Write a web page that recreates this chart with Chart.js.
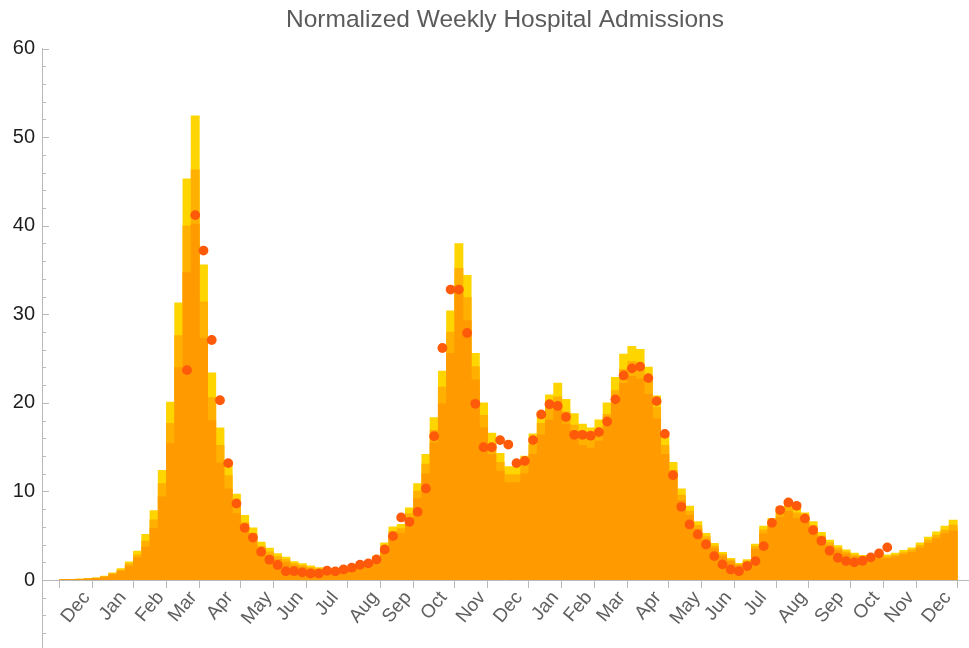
<!DOCTYPE html>
<html>
<head>
<meta charset="utf-8">
<script src="https://cdn.jsdelivr.net/npm/chart.js@4.4.1/dist/chart.umd.min.js"></script>
<style>
  html, body { margin: 0; padding: 0; background: #ffffff; }
  canvas { display: block; }
</style>
</head>
<body>
<canvas id="chart" width="969" height="648"></canvas>
<script>
// Month names shown along the time axis (one per month, Dec through the second Dec)
const monthLabels = ['Dec','Jan','Feb','Mar','Apr','May','Jun','Jul','Aug','Sep','Oct','Nov',
                     'Dec','Jan','Feb','Mar','Apr','May','Jun','Jul','Aug','Sep','Oct','Nov','Dec'];

// Week index at which each month starts (last entry closes the final month)
const monthStartWeek = [0,4,9,13,17,22,26,30,35,39,43,48,52,57,61,65,69,74,78,82,87,91,96,100,104,109];

// Upper edge of the projection band, per week
const upperBand = [
  0.05,0.08,0.12,0.18,0.26,0.45,0.83,1.3,2.07,3.27,
  5.15,7.85,12.4,20.1,31.3,45.3,52.4,35.6,23.4,17.2,
  13.4,9.7,7.3,5.9,4.3,3.6,3.0,2.6,2.1,1.85,
  1.6,1.4,1.25,1.3,1.45,1.6,1.85,2.1,2.7,4.2,
  6.0,6.3,8.15,10.9,14.2,18.35,23.6,30.4,38.0,34.4,
  25.6,20.0,16.6,14.3,12.8,12.8,14.0,16.5,19.0,20.9,
  22.25,20.4,18.8,17.6,17.2,18.1,20.0,22.9,25.5,26.4,
  26.05,24.05,20.8,16.2,13.3,10.3,8.35,6.6,5.27,4.14,
  3.12,2.44,1.9,2.3,4.06,6.1,6.96,8.27,9.0,8.15,
  7.6,6.6,5.4,4.5,3.9,3.4,3.05,2.8,2.7,2.75,
  2.85,3.05,3.35,3.65,4.2,4.85,5.45,6.1,6.77
];

// Middle edge of the projection band, per week
const middleBand = [
  0.04,0.07,0.11,0.16,0.23,0.4,0.73,1.14,1.82,2.85,
  4.4,6.8,10.9,17.7,27.6,40.0,46.3,31.4,20.6,15.2,
  11.8,8.6,6.5,5.2,3.8,3.2,2.65,2.3,1.86,1.64,
  1.42,1.25,1.12,1.17,1.31,1.45,1.68,1.92,2.47,3.85,
  5.5,5.8,7.5,10.05,13.1,16.9,21.8,28.0,35.2,31.9,
  24.1,18.6,15.4,13.3,11.9,11.9,13.0,15.3,17.7,19.5,
  20.7,19.0,17.5,16.4,16.0,16.9,18.7,21.4,23.8,24.7,
  24.4,22.5,19.5,15.2,12.4,9.6,7.8,6.15,4.9,3.85,
  2.9,2.27,1.77,2.14,3.78,5.68,6.5,7.7,8.4,7.6,
  7.05,6.15,5.0,4.2,3.6,3.15,2.83,2.6,2.5,2.55,
  2.64,2.83,3.1,3.38,3.9,4.5,5.05,5.65,6.2
];

// Lower edge of the projection band, per week
const lowerBand = [
  0.04,0.06,0.09,0.14,0.2,0.34,0.63,0.99,1.58,2.5,
  3.75,5.8,9.4,15.4,24.0,34.7,40.2,27.3,18.0,13.2,
  10.3,7.5,5.6,4.5,3.3,2.8,2.3,2.0,1.62,1.43,
  1.24,1.09,0.98,1.03,1.16,1.29,1.5,1.73,2.24,3.5,
  5.0,5.3,6.85,9.2,12.0,15.5,19.9,25.6,32.4,29.3,
  22.6,17.2,14.2,12.3,11.0,11.0,12.0,14.2,16.4,18.1,
  19.2,17.6,16.2,15.2,14.9,15.7,17.4,19.9,22.2,23.0,
  22.7,21.0,18.2,14.2,11.6,9.0,7.3,5.75,4.6,3.6,
  2.7,2.1,1.64,1.98,3.5,5.25,6.0,7.1,7.75,7.0,
  6.55,5.7,4.65,3.9,3.35,2.92,2.62,2.4,2.32,2.37,
  2.45,2.62,2.88,3.14,3.6,4.17,4.69,5.25,5.56
];

// Reported weekly admissions (null where no report exists)
const observed = [
  null,null,null,null,null,null,null,null,null,null,
  null,null,null,null,null,23.7,41.2,37.2,27.1,20.3,
  13.2,8.65,5.9,4.8,3.2,2.3,1.7,1.0,1.0,0.87,
  0.75,0.75,1.05,0.98,1.2,1.4,1.73,1.88,2.33,3.46,
  4.96,7.07,6.58,7.7,10.34,16.24,26.2,32.8,32.8,27.9,
  19.9,15.0,15.0,15.8,15.3,13.2,13.45,15.8,18.7,19.85,
  19.66,18.4,16.4,16.4,16.3,16.7,17.9,20.4,23.1,23.9,
  24.1,22.8,20.2,16.5,11.84,8.27,6.28,5.15,4.02,2.7,
  1.77,1.2,1.0,1.58,2.14,3.83,6.46,7.9,8.76,8.38,
  6.96,5.64,4.43,3.3,2.52,2.14,2.0,2.18,2.56,3.0,
  3.69,null,null,null,null,null,null,null,null
];

// Value-axis tick positions (labels only on the multiples of ten)
const valueTicks = [-6,-4,-2,0,2,4,6,8,10,12,14,16,18,20,22,24,26,28,30,32,34,36,38,40,42,44,46,48,50,52,54,56,58,60];

const FONT = '"Liberation Sans", Arial, Helvetica, sans-serif';
const AXIS_GREY = '#b9b9b9';
const LABEL_SIZE = 19;
const LABEL_ROT = 50;
const WEEK_MIN = -2.1;
const WEEK_MAX = 110.3;

// bars sit centred in their week slot
const asPoints = arr => arr
  .map((v, i) => (v == null ? null : { x: i + 0.5, y: v }))
  .filter(p => p !== null);

const barCommon = {
  type: 'bar',
  grouped: false,
  barPercentage: 1.0,
  categoryPercentage: 1.0,
  borderWidth: 0
};

// small inward tick marks on the value axis
const valueAxisTicks = {
  id: 'valueAxisTicks',
  afterDraw(chart) {
    const ys = chart.scales.y;
    const left = chart.chartArea.left;
    const ctx = chart.ctx;
    ctx.save();
    ctx.strokeStyle = AXIS_GREY;
    ctx.lineWidth = 1;
    ys.ticks.forEach(t => {
      const py = Math.round(ys.getPixelForValue(t.value)) + 0.5;
      const len = t.value % 10 === 0 ? 7 : 4;
      ctx.beginPath();
      ctx.moveTo(left, py);
      ctx.lineTo(left + len, py);
      ctx.stroke();
    });
    ctx.restore();
  }
};

const measureCtx = document.createElement('canvas').getContext('2d');
const zeroPadding = scale => {
  scale.paddingLeft = 0;
  scale.paddingRight = 0;
  scale.paddingTop = 0;
  scale.paddingBottom = 0;
};

new Chart(document.getElementById('chart'), {
  data: {
    datasets: [
      {
        type: 'line',
        label: 'Reported',
        data: asPoints(observed),
        showLine: false,
        pointRadius: 4.9,
        pointHoverRadius: 4.9,
        pointBorderWidth: 0,
        pointBackgroundColor: '#ff5a0a',
        borderColor: '#ff5a0a',
        order: 0
      },
      Object.assign({ label: 'Lower', data: asPoints(lowerBand), backgroundColor: '#ff9a00', order: 1 }, barCommon),
      Object.assign({ label: 'Middle', data: asPoints(middleBand), backgroundColor: '#ffb000', order: 2 }, barCommon),
      Object.assign({ label: 'Upper', data: asPoints(upperBand), backgroundColor: '#ffd500', order: 3 }, barCommon)
    ]
  },
  options: {
    responsive: false,
    devicePixelRatio: 1,
    animation: false,
    events: [],
    layout: { autoPadding: false, padding: { left: 0, right: 1, top: 0, bottom: 0 } },
    plugins: {
      legend: { display: false },
      tooltip: { enabled: false },
      title: {
        display: true,
        text: 'Normalized Weekly Hospital Admissions',
        color: '#5b5b5b',
        fullSize: false,
        font: { family: FONT, size: 24.5, weight: 'normal' },
        padding: { top: 6, bottom: 13.2 }
      }
    },
    scales: {
      // week axis: line and month-boundary tick marks
      x: {
        type: 'linear',
        min: WEEK_MIN,
        max: WEEK_MAX,
        offset: false,
        position: { y: 0 },
        border: { display: true, color: AXIS_GREY, width: 1 },
        grid: {
          display: true,
          offset: false,
          drawOnChartArea: false,
          drawTicks: true,
          tickLength: 7,
          tickWidth: 1,
          tickColor: AXIS_GREY
        },
        ticks: { display: false, autoSkip: false },
        afterBuildTicks: scale => {
          scale.ticks = monthStartWeek.map(w => ({ value: w }));
        },
        afterFit: zeroPadding
      },
      // month names, centred under each month
      months: {
        type: 'linear',
        axis: 'x',
        min: WEEK_MIN,
        max: WEEK_MAX,
        offset: false,
        position: { y: 0 },
        border: { display: false },
        grid: { display: false, drawOnChartArea: false, drawTicks: false },
        ticks: {
          autoSkip: false,
          minRotation: LABEL_ROT,
          maxRotation: LABEL_ROT,
          padding: 7,
          color: '#5f5f5f',
          font: { family: FONT, size: LABEL_SIZE },
          callback: (v, i, ticks) => ticks[i].text
        },
        afterBuildTicks: scale => {
          const ticks = [];
          const unitsPerPx = (scale.max - scale.min) / (scale.width > 100 ? scale.width : 926);
          measureCtx.font = LABEL_SIZE + 'px ' + FONT;
          const rot = LABEL_ROT * Math.PI / 180;
          monthLabels.forEach((m, k) => {
            const mid = (monthStartWeek[k] + monthStartWeek[k + 1]) / 2;
            const w = measureCtx.measureText(m).width;
            const shift = (w / 2) * Math.cos(rot);
            ticks.push({ value: mid + shift * unitsPerPx, text: m });
          });
          scale.ticks = ticks;
        },
        afterFit: zeroPadding
      },
      y: {
        type: 'linear',
        min: -7.67,
        max: 60,
        border: { display: true, color: AXIS_GREY, width: 1 },
        grid: { display: true, drawOnChartArea: false, drawTicks: false },
        ticks: {
          autoSkip: false,
          padding: 7,
          color: '#1e1e1e',
          font: { family: FONT, size: 20 },
          callback: v => (v >= 0 && v % 10 === 0 ? String(v) : '')
        },
        afterBuildTicks: scale => {
          scale.ticks = valueTicks.map(v => ({ value: v }));
        },
        afterFit: scale => {
          scale.width = 42;
          scale.paddingTop = 0;
          scale.paddingBottom = 0;
        }
      }
    }
  },
  plugins: [valueAxisTicks]
});
</script>
</body>
</html>
